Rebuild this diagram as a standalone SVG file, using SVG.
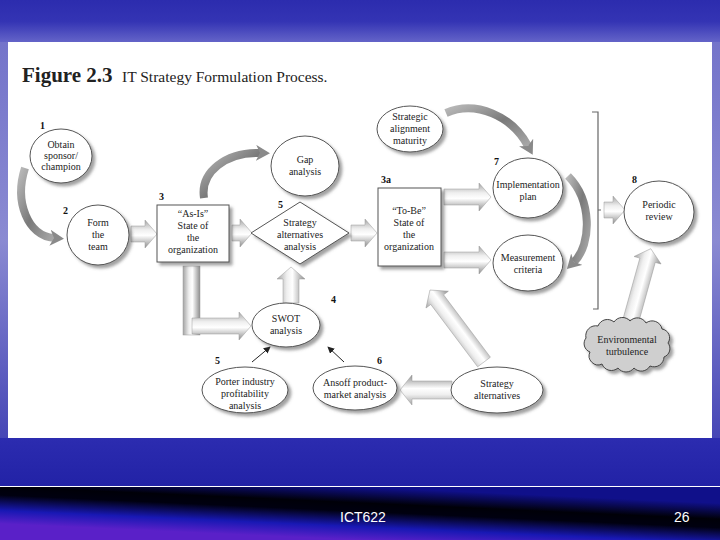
<svg xmlns="http://www.w3.org/2000/svg" width="720" height="540" viewBox="0 0 720 540">
<defs>
  <linearGradient id="bg" x1="0" y1="0" x2="0" y2="1">
    <stop offset="0" stop-color="#2c2cae"/>
    <stop offset="0.04" stop-color="#3434b4"/>
    <stop offset="0.078" stop-color="#6464c8"/>
    <stop offset="0.5" stop-color="#5858c0"/>
    <stop offset="0.79" stop-color="#2e2eb2"/>
    <stop offset="0.9" stop-color="#2222a6"/>
  </linearGradient>
  <linearGradient id="side" x1="0" y1="0" x2="0" y2="1">
    <stop offset="0" stop-color="#7474ca"/>
    <stop offset="0.5" stop-color="#8a8ad2"/>
    <stop offset="1" stop-color="#4646b6"/>
  </linearGradient>
  <linearGradient id="foot" gradientUnits="userSpaceOnUse" x1="360" y1="487" x2="360" y2="540" gradientTransform="rotate(2.6 360 513)">
    <stop offset="0" stop-color="#10108a"/>
    <stop offset="0.3" stop-color="#000008"/>
    <stop offset="0.46" stop-color="#000010"/>
    <stop offset="0.75" stop-color="#1818b4"/>
    <stop offset="1" stop-color="#5a20c8"/>
  </linearGradient>
  <linearGradient id="tube" x1="0" y1="0" x2="0" y2="1">
    <stop offset="0" stop-color="#a4a4a4"/>
    <stop offset="0.35" stop-color="#efefef"/>
    <stop offset="0.55" stop-color="#ffffff"/>
    <stop offset="1" stop-color="#8e8e8e"/>
  </linearGradient>
  <linearGradient id="tubeV" x1="0" y1="0" x2="1" y2="0">
    <stop offset="0" stop-color="#a4a4a4"/>
    <stop offset="0.35" stop-color="#efefef"/>
    <stop offset="0.55" stop-color="#ffffff"/>
    <stop offset="1" stop-color="#8e8e8e"/>
  </linearGradient>
  <linearGradient id="rib" x1="0" y1="0" x2="1" y2="1">
    <stop offset="0" stop-color="#b8b8b8"/>
    <stop offset="0.5" stop-color="#7a7a7a"/>
    <stop offset="1" stop-color="#a8a8a8"/>
  </linearGradient>
  <marker id="ribHead" viewBox="0 0 14 16" refX="4" refY="8" markerWidth="14" markerHeight="16" markerUnits="userSpaceOnUse" orient="auto">
    <path d="M0,0 L14,8 L0,16 L4,8 Z" fill="#8a8a8a"/>
  </marker>
  <marker id="thin" viewBox="0 0 8 8" refX="7" refY="4" markerWidth="7" markerHeight="7" markerUnits="userSpaceOnUse" orient="auto">
    <path d="M0,0 L8,4 L0,8 Z" fill="#222"/>
  </marker>
  <filter id="sh" x="-20%" y="-20%" width="150%" height="150%">
    <feDropShadow dx="3" dy="3" stdDeviation="1.6" flood-color="#555" flood-opacity="0.55"/>
  </filter>
  <style>
    .t{font-family:"Liberation Serif","Times New Roman",serif;font-size:10px;fill:#222;text-anchor:middle}
    .n{font-family:"Liberation Serif","Times New Roman",serif;font-size:10px;font-weight:bold;fill:#111}
    .shape{fill:#fff;stroke:#555;stroke-width:1;filter:url(#sh)}
    .tube{fill:url(#tube);stroke:#9a9a9a;stroke-width:0.5}
    .rib{fill:none;stroke:url(#rib);stroke-width:8;marker-end:url(#ribHead)}
    .ft{font-family:"Liberation Sans",Arial,sans-serif;font-size:14px;fill:#fff}
  </style>
</defs>

<!-- background -->
<rect x="0" y="0" width="720" height="540" fill="url(#bg)"/>
<rect x="0" y="42" width="8" height="396" fill="url(#side)"/>
<rect x="712" y="42" width="8" height="396" fill="url(#side)"/>
<rect x="0" y="487" width="720" height="53" fill="url(#foot)"/>
<line x1="0" y1="486.5" x2="720" y2="486.5" stroke="#ffffff" stroke-width="1.2"/>
<rect x="8" y="42" width="704" height="396" fill="#ffffff"/>

<!-- title -->
<g id="title">
  <text x="22" y="82" font-family="Liberation Serif, serif" font-size="21" font-weight="bold" fill="#222">Figure 2.3</text>
  <text x="122" y="82" font-family="Liberation Serif, serif" font-size="15.5" fill="#222">IT Strategy Formulation Process.</text>
</g>

<!-- connectors -->
<g id="connectors">
  <!-- curved ribbons -->
  <path class="rib" d="M25,168 C14,202 28,236 54,238"/>
  <path class="rib" d="M204,198 C200,172 226,152 260,153"/>
  <path class="rib" d="M446,113 C476,100 512,116 528,146"/>
  <path class="rib" d="M568,176 C592,200 592,244 574,262"/>
  <!-- thick tube arrows (local: pointing right) -->
  <path class="tube" transform="translate(131,234)" d="M0,-8 H14 V-14 L26,0 L14,14 V8 H0 Z"/>
  <path class="tube" transform="translate(232,233)" d="M0,-8 H8 V-14 L20,0 L8,14 V8 H0 Z"/>
  <path class="tube" transform="translate(351,233)" d="M0,-8 H14 V-14 L26,0 L14,14 V8 H0 Z"/>
  <path class="tube" transform="translate(444,197)" d="M0,-8 H35 V-14 L47,0 L35,14 V8 H0 Z"/>
  <path class="tube" transform="translate(444,260)" d="M0,-8 H35 V-14 L47,0 L35,14 V8 H0 Z"/>
  <path class="tube" transform="translate(604,210)" d="M0,-8 H9 V-14 L21,0 L9,14 V8 H0 Z"/>
  <path class="tube" transform="translate(631,320) rotate(-74.5)" d="M0,-8 H62 V-14 L74,0 L62,14 V8 H0 Z"/>
  <path class="tube" transform="translate(291,303) rotate(-90)" d="M0,-8 H24 V-14 L36,0 L24,14 V8 H0 Z"/>
  <path class="tube" transform="translate(452,390) rotate(180)" d="M0,-9 H40 V-15 L52,0 L40,15 V9 H0 Z"/>
  <path class="tube" transform="translate(484,362) rotate(-126.9)" d="M0,-8 H78 V-14 L90,0 L78,14 V8 H0 Z"/>
  <!-- L-shaped arrow As-Is -> SWOT -->
  <rect x="183" y="266" width="17" height="69" fill="url(#tubeV)" stroke="#9a9a9a" stroke-width="0.5"/>
  <path class="tube" transform="translate(192,326)" d="M0,-8 H47 V-14 L59,0 L47,14 V8 H0 Z"/>
  <!-- thin arrows -->
  <line x1="252" y1="362" x2="270" y2="347" stroke="#222" stroke-width="1" marker-end="url(#thin)"/>
  <line x1="344" y1="362" x2="328" y2="347" stroke="#222" stroke-width="1" marker-end="url(#thin)"/>
  <!-- bracket -->
  <path d="M592,112 H598 V309 H593 M598,210 H601" fill="none" stroke="#666" stroke-width="1.2"/>
</g>

<!-- nodes -->
<g id="n1">
  <ellipse class="shape" cx="61" cy="156" rx="31" ry="27"/>
  <text class="n" x="40" y="129">1</text>
  <text class="t" x="61" y="148">Obtain</text>
  <text class="t" x="61" y="159">sponsor/</text>
  <text class="t" x="61" y="170">champion</text>
</g>
<g id="n2">
  <ellipse class="shape" cx="98" cy="235" rx="31" ry="30"/>
  <text class="n" x="63" y="214">2</text>
  <text class="t" x="98" y="226">Form</text>
  <text class="t" x="98" y="238">the</text>
  <text class="t" x="98" y="250">team</text>
</g>
<g id="n3">
  <rect class="shape" x="157" y="205" width="72" height="57"/>
  <text class="n" x="159" y="200">3</text>
  <text class="t" x="193" y="217">“As-Is”</text>
  <text class="t" x="193" y="229">State of</text>
  <text class="t" x="193" y="241">the</text>
  <text class="t" x="193" y="253">organization</text>
</g>
<g id="gap">
  <ellipse class="shape" cx="305" cy="166" rx="34" ry="30"/>
  <text class="t" x="305" y="163">Gap</text>
  <text class="t" x="305" y="175">analysis</text>
</g>
<g id="n5a">
  <path class="shape" d="M300,202 L349,233 L300,264 L251,233 Z"/>
  <text class="n" x="278" y="208">5</text>
  <text class="t" x="300" y="226">Strategy</text>
  <text class="t" x="300" y="238">alternatives</text>
  <text class="t" x="300" y="250">analysis</text>
</g>
<g id="n3a">
  <rect class="shape" x="378" y="188" width="63" height="78"/>
  <text class="n" x="381" y="183">3a</text>
  <text class="t" x="409" y="214">“To-Be”</text>
  <text class="t" x="409" y="226">State of</text>
  <text class="t" x="409" y="238">the</text>
  <text class="t" x="409" y="250">organization</text>
</g>
<g id="sam">
  <ellipse class="shape" cx="410" cy="129" rx="33" ry="23"/>
  <text class="t" x="410" y="120">Strategic</text>
  <text class="t" x="410" y="132">alignment</text>
  <text class="t" x="410" y="144">maturity</text>
</g>
<g id="n7">
  <ellipse class="shape" cx="528" cy="188" rx="35" ry="30"/>
  <text class="n" x="494" y="165">7</text>
  <text class="t" x="528" y="188">Implementation</text>
  <text class="t" x="528" y="200">plan</text>
</g>
<g id="meas">
  <ellipse class="shape" cx="528" cy="263" rx="35" ry="28"/>
  <text class="t" x="528" y="261">Measurement</text>
  <text class="t" x="528" y="273">criteria</text>
</g>
<g id="n8">
  <ellipse class="shape" cx="659" cy="212" rx="35" ry="31"/>
  <text class="n" x="632" y="183">8</text>
  <text class="t" x="659" y="208">Periodic</text>
  <text class="t" x="659" y="220">review</text>
</g>
<g id="env">
  <path d="M590,352 a9,9 0 0 1 -4,-14 a10,10 0 0 1 12,-12 a10,10 0 0 1 16,-4 a10,10 0 0 1 16,-1 a10,10 0 0 1 16,2 a10,10 0 0 1 16,6 a9,9 0 0 1 6,14 a9,9 0 0 1 -4,14 a10,10 0 0 1 -14,9 a10,10 0 0 1 -16,2 a10,10 0 0 1 -16,0 a10,10 0 0 1 -16,-4 a9,9 0 0 1 -12,-12 Z" fill="#cfcfcf" stroke="#444" stroke-width="1" filter="url(#sh)"/>
  <text class="t" x="627" y="343">Environmental</text>
  <text class="t" x="627" y="355">turbulence</text>
</g>
<g id="n4">
  <ellipse class="shape" cx="286" cy="325" rx="34" ry="22"/>
  <text class="n" x="331" y="303">4</text>
  <text class="t" x="286" y="322">SWOT</text>
  <text class="t" x="286" y="334">analysis</text>
</g>
<g id="n5b">
  <ellipse class="shape" cx="245" cy="390" rx="43" ry="23"/>
  <text class="n" x="215" y="364">5</text>
  <text class="t" x="245" y="385">Porter industry</text>
  <text class="t" x="245" y="397">profitability</text>
  <text class="t" x="245" y="409">analysis</text>
</g>
<g id="n6">
  <ellipse class="shape" cx="355" cy="388" rx="42" ry="22"/>
  <text class="n" x="377" y="364">6</text>
  <text class="t" x="355" y="386">Ansoff product-</text>
  <text class="t" x="355" y="398">market analysis</text>
</g>
<g id="salt">
  <ellipse class="shape" cx="497" cy="390" rx="46" ry="23"/>
  <text class="t" x="497" y="387">Strategy</text>
  <text class="t" x="497" y="399">alternatives</text>
</g>

<!-- footer -->
<g id="footer">
  <text class="ft" x="340" y="522">ICT622</text>
  <text class="ft" x="674" y="522">26</text>
</g>
</svg>
